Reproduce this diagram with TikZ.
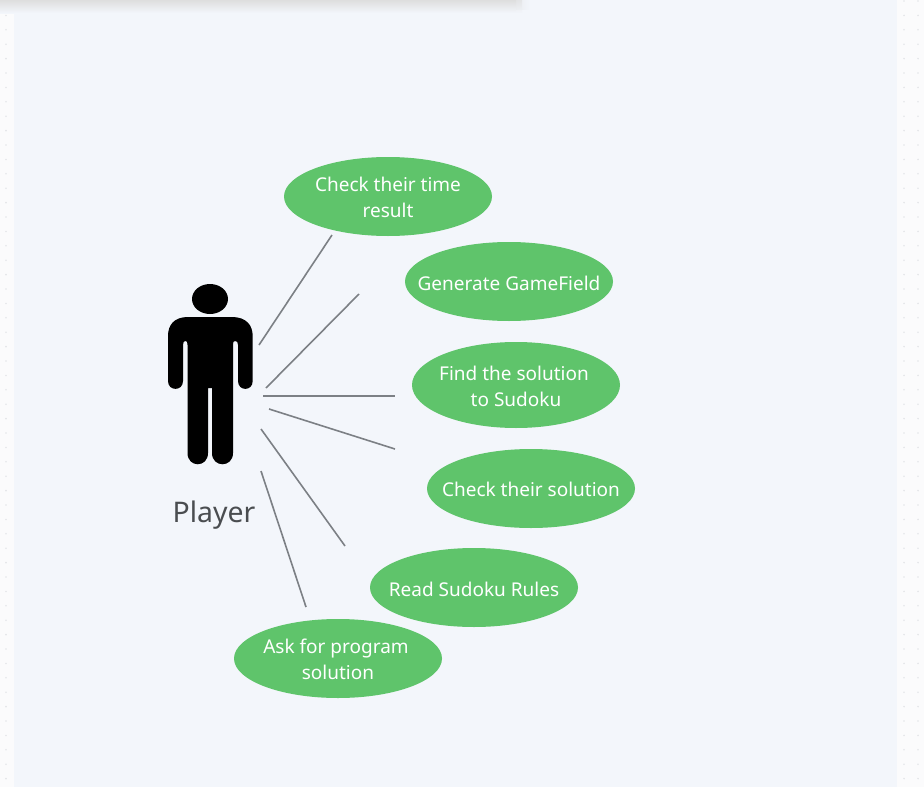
\documentclass[tikz,border=0pt]{standalone}
\usepackage{fontspec}
\setmainfont{Noto Sans}
\usetikzlibrary{shapes.geometric}
\definecolor{panel}{HTML}{F3F6FB}
\definecolor{pagebg}{HTML}{FBFBFC}
\definecolor{dotc}{HTML}{E4E6E9}
\definecolor{usecase}{HTML}{5FC46B}
\definecolor{linkc}{HTML}{7C8085}
\definecolor{labelc}{HTML}{4A4D50}
\tikzset{
  usecasebox/.style={ellipse,fill=usecase,minimum width=208pt,minimum height=79pt,inner sep=0pt},
  usecasetext/.style={text=white,inner sep=0pt,align=center,font=\fontsize{19}{26}\selectfont,yshift=-1.5pt},
  linkline/.style={draw=linkc,line width=1.6pt},
  dotmark/.style={fill=dotc,draw=none},
}
\begin{document}
\begin{tikzpicture}[x=1pt,y=-1pt]
\useasboundingbox (0,0) rectangle (924,787);
\fill[pagebg] (0,0) rectangle (924,787);
\foreach \k in {0,...,54}{
  \fill[dotmark] (6,{1+14.4*\k}) circle (0.9);
  \fill[dotmark] (904,{1+14.4*\k}) circle (0.9);
  \fill[dotmark] (918,{1+14.4*\k}) circle (0.9);
}
\fill[panel] (14,0) rectangle (897,787);
% toolbar shadow
\shade[top color=black!13,bottom color=panel] (0,0) rectangle (516,13);
\shade[left color=black!13,right color=panel,opacity=0.35] (516,0) rectangle (530,9);
\shade[top color=black!13,bottom color=panel,opacity=0.6] (516,0) rectangle (522,13);
% person
\fill[black] (210,299) ellipse (18 and 15);
\fill[black]
  (188,317)
  -- (232,317)
  .. controls (246,317) and (252.7,325) .. (252.7,336)
  -- (252.7,381)
  .. controls (252.7,391.5) and (238,391.5) .. (238,381)
  -- (238,345) .. controls (238,342) and (237,341) .. (235,341)
  .. controls (233.5,341) and (233,342) .. (233,345)
  -- (233,453)
  .. controls (233,468) and (212,468) .. (212,453)
  -- (212,388) -- (208,388)
  -- (208,453)
  .. controls (208,468) and (187.5,468) .. (187.5,453)
  -- (187.5,345) .. controls (187.5,342) and (187,341) .. (185.5,341)
  .. controls (184,341) and (183,342) .. (183,345)
  -- (183,381)
  .. controls (183,391.5) and (168,391.5) .. (168,381)
  -- (168,336)
  .. controls (168,325) and (174,317) .. (188,317)
  -- cycle;
\node[text=labelc,font=\fontsize{28.4}{30}\selectfont,inner sep=0pt] (player) at (214,515) {Player};
% use cases
\node[usecasebox,label={[usecasetext,yshift=1pt]center:{Check their time\\result}}] (uc1) at (388,196.5) {};
\node[usecasebox,label={[usecasetext]center:{Generate GameField}}] (uc2) at (509,281.5) {};
\node[usecasebox,minimum height=86pt,label={[usecasetext]center:{Find the solution\kern4pt\\to Sudoku}}] (uc3) at (516,385) {};
\node[usecasebox,label={[usecasetext,yshift=0.7pt]center:{Check their solution}}] (uc4) at (531,488.5) {};
\node[usecasebox,label={[usecasetext]center:{Read Sudoku Rules}}] (uc5) at (474,587.5) {};
\node[usecasebox,label={[usecasetext,yshift=1pt]center:{Ask for program\kern4pt\\solution}}] (uc6) at (338,658.5) {};
% connectors
\coordinate (a1) at (259,345); \coordinate (b1) at (332,235);
\coordinate (a2) at (266,388); \coordinate (b2) at (359,294);
\coordinate (a3) at (263,396); \coordinate (b3) at (395,396);
\coordinate (a4) at (269,409); \coordinate (b4) at (395,449);
\coordinate (a5) at (261,429); \coordinate (b5) at (345,546);
\coordinate (a6) at (261,471); \coordinate (b6) at (306,607);
\foreach \i in {1,...,6}{\draw[linkline] (a\i) -- (b\i);}
\end{tikzpicture}
\end{document}
